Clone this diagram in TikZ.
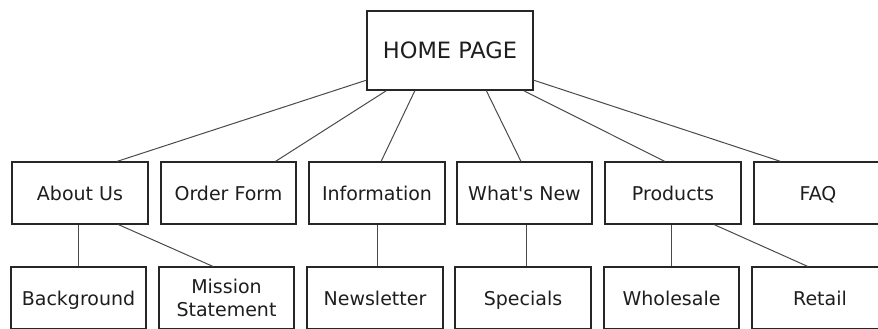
\documentclass[tikz,border=0pt]{standalone}
\usepackage{fontspec}
\setmainfont{DejaVu Sans}
\usetikzlibrary{calc}
\definecolor{boxline}{HTML}{262626}
\definecolor{linkline}{HTML}{4A4A4A}
\definecolor{labeltext}{HTML}{1E1E1E}
\begin{document}
\begin{tikzpicture}[x=1pt,y=-1pt,
  page/.style={draw=boxline,line width=1.2pt,fill=white,inner sep=0pt,
    minimum width=136pt,minimum height=62pt,align=center,text=labeltext,
    font=\fontsize{19}{23}\selectfont},
  oneline/.style={text height=14pt,text depth=0pt},
  link/.style={draw=linkline,line width=1pt}]
\useasboundingbox (0,0) rectangle (878,329);
\clip (0,0) rectangle (878,329);

% top level
\node[page,oneline,minimum width=166pt,minimum height=79pt,text height=16.5pt,
  font=\fontsize{22.5}{26}\selectfont] (home) at (450,50.5) {HOME PAGE};

% first level
\node[page,oneline,minimum width=136pt] (about) at (80,193) {About Us};
\node[page,oneline,minimum width=135pt] (order) at (228.5,193) {Order Form};
\node[page,oneline] (info) at (377,193) {Information};
\node[page,oneline,minimum width=135pt] (whatsnew) at (524.5,193) {What\textquotesingle s New};
\node[page,oneline] (products) at (673,193) {Products};
\node[page,oneline,minimum width=128pt] (faq) at (818,193) {FAQ};

% second level
\node[page,oneline,minimum width=135pt] (background) at (78.5,298) {Background};
\node[page,minimum width=135pt] (mission) at (226.5,298) {Mission\\Statement};
\node[page,oneline] (newsletter) at (375,298) {Newsletter};
\node[page,oneline] (specials) at (523,298) {Specials};
\node[page,oneline,minimum width=135pt] (wholesale) at (671.5,298) {Wholesale};
\node[page,oneline] (retail) at (820,298) {Retail};

% links from the home page
\draw[link] ($(home.north west)!0.87!(home.south west)$) -- ($(about.north west)!0.77!(about.north east)$);
\draw[link] ($(home.south west)!0.12!(home.south east)$) -- ($(order.north west)!0.845!(order.north east)$);
\draw[link] ($(home.south west)!0.29!(home.south east)$) -- ($(info.north west)!0.53!(info.north east)$);
\draw[link] ($(home.south west)!0.717!(home.south east)$) -- ($(whatsnew.north west)!0.474!(whatsnew.north east)$);
\draw[link] ($(home.south west)!0.94!(home.south east)$) -- ($(products.north west)!0.44!(products.north east)$);
\draw[link] ($(home.north east)!0.87!(home.south east)$) -- ($(faq.north west)!0.21!(faq.north east)$);

% links to the second level
\draw[link] (background.north) -- (background.north |- about.south);
\draw[link] ($(about.south west)!0.78!(about.south east)$) -- ($(mission.north west)!0.4!(mission.north east)$);
\draw[link] (info.south) -- (info.south |- newsletter.north);
\draw[link] (specials.north) ++(3,0) coordinate (sp) (sp) -- (sp |- whatsnew.south);
\draw[link] (wholesale.north) -- (wholesale.north |- products.south);
\draw[link] ($(products.south west)!0.8!(products.south east)$) -- ($(retail.north west)!0.41!(retail.north east)$);
\end{tikzpicture}
\end{document}
